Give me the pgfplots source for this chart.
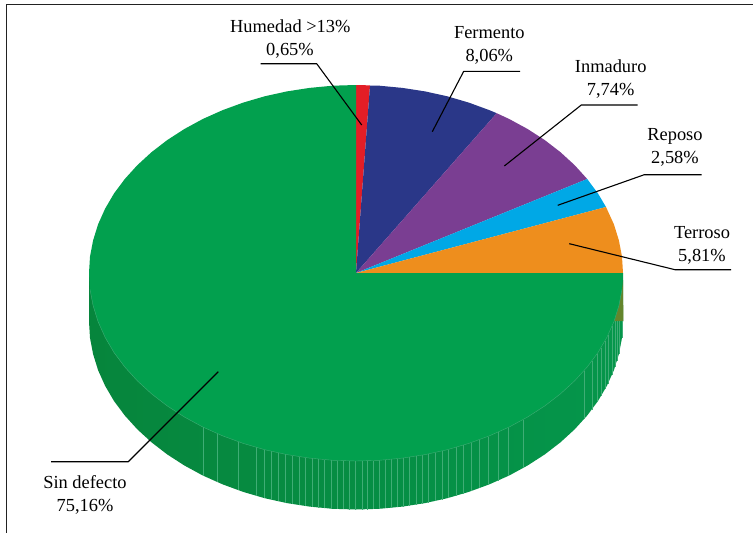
\documentclass[border=0pt]{standalone}
\usepackage{pgfplots}
\pgfplotsset{compat=1.18}
\usepackage{fontspec}
\setmainfont{Liberation Serif}

\definecolor{topgreen}{HTML}{02A04E}
\definecolor{sideL}{HTML}{06853C}
\definecolor{sideM}{HTML}{059349}
\definecolor{sideR}{HTML}{05964B}
\definecolor{rib}{HTML}{3FAD75}
\definecolor{redS}{HTML}{E31E26}
\definecolor{blueS}{HTML}{2A3788}
\definecolor{purpleS}{HTML}{7A3E92}
\definecolor{cyanS}{HTML}{00A8E6}
\definecolor{orangeS}{HTML}{EE8E1D}
\definecolor{oliveS}{HTML}{64852C}
\definecolor{frameC}{HTML}{222222}

\begin{document}
\begin{tikzpicture}
\begin{axis}[
  scale only axis, width=753pt, height=533pt,
  xmin=0, xmax=753, ymin=0, ymax=533, y dir=reverse,
  axis lines=none, unbounded coords=jump,
  every axis plot/.append style={line join=round},
]
% outer frame: top and left rules
\addplot[frameC, line width=1.5pt] coordinates {(753,4.5) (6.3,4.5) (6.3,533)};

% cylinder wall below the top face
\addplot[draw=none, shade, left color=sideL, middle color=sideM, right color=sideR] coordinates {
 (623,273) (623,321.5) (622,337.9) (618.9,354.1) (613.9,370.2) (606.9,385.8) (598,401) (587.2,415.5)
 (574.7,429.3) (560.5,442.3) (544.8,454.4) (527.6,465.5) (509.2,475.5) (489.5,484.3) (468.8,491.9)
 (447.3,498.2) (425.1,503.1) (402.4,506.6) (379.3,508.8) (356,509.5) (332.7,508.8) (309.6,506.6)
 (286.9,503.1) (264.7,498.2) (243.2,491.9) (222.5,484.3) (202.8,475.5) (184.4,465.5) (167.2,454.4)
 (151.5,442.3) (137.3,429.3) (124.8,415.5) (114,401) (105.1,385.8) (98.1,370.2) (93.1,354.1) (90,337.9)
 (89,321.5) (89,273)
} -- cycle;

% orange wall sliver at the right edge
\addplot[draw=none, fill=oliveS] coordinates {
 (613.9,321) (615,318.7) (617,312.7) (619,305.5) (622,289) (623,280) (623.4,321)
} -- cycle;

% wall ribs
\addplot[rib, line width=0.4pt] coordinates {
 (203,427) (203,475.5) (203,nan)
 (217,433.5) (217,482) (217,nan)
 (238,441.7) (238,490) (238,nan)
 (256,447.4) (256,496) (256,nan)
 (264,449.5) (264,498) (264,nan)
 (271,451.3) (271,500) (271,nan)
 (278,452.8) (278,501.3) (278,nan)
 (285,454.2) (285,502.7) (285,nan)
 (292,455.5) (292,504) (292,nan)
 (299,456.7) (299,505.2) (299,nan)
 (305,457.6) (305,506.1) (305,nan)
 (312,458.4) (312,506.9) (312,nan)
 (318,459) (318,507.5) (318,nan)
 (324,459.6) (324,508.1) (324,nan)
 (331,460.2) (331,508.7) (331,nan)
 (337,460.5) (337,509) (337,nan)
 (343,460.8) (343,509.3) (343,nan)
 (349,461) (349,509.5) (349,nan)
 (355,461) (355,509.5) (355,nan)
 (362,461) (362,509.5) (362,nan)
 (367,461) (367,509.5) (367,nan)
 (373,460.6) (373,509.1) (373,nan)
 (379,460.3) (379,508.8) (379,nan)
 (385,459.9) (385,508.4) (385,nan)
 (391,459.4) (391,507.9) (391,nan)
 (397,458.8) (397,507.3) (397,nan)
 (403,458) (403,506.5) (403,nan)
 (409,457.3) (409,505.8) (409,nan)
 (416,456.2) (416,504.7) (416,nan)
 (422,455.2) (422,503.7) (422,nan)
 (428,454) (428,502.5) (428,nan)
 (435,452.6) (435,501.1) (435,nan)
 (442,451) (442,499.5) (442,nan)
 (448,449.5) (448,498) (448,nan)
 (456,447.4) (456,495.9) (456,nan)
 (463,445.3) (463,493.8) (463,nan)
 (471,442.7) (471,491.2) (471,nan)
 (479,439.9) (479,488.4) (479,nan)
 (488,436.5) (488,485) (488,nan)
 (498,432.2) (498,480.7) (498,nan)
 (508,427.6) (508,476.1) (508,nan)
 (523,419.7) (523,468.2) (523,nan)
 (584,370.9) (584,419.4) (584,nan)
 (592,361) (592,409.5) (592,nan)
 (597,353.9) (597,402.4) (597,nan)
 (601,347.7) (601,396.2) (601,nan)
 (605,340.9) (605,389.4) (605,nan)
 (608,335) (608,383.5) (608,nan)
 (612,326.3) (612,374.8) (612,nan)
 (615,321) (615,367.2) (615,nan)
 (617,321) (617,361.2) (617,nan)
 (619,321) (619,354) (619,nan)
 (622,321) (622,337.5)
};

% top face slices, clockwise from twelve o'clock
\addplot[draw=none, fill=redS] coordinates {
 (356,273) (356,85) (363,85.1) (370,85.5)
} -- cycle;
\addplot[draw=none, fill=blueS] coordinates {
 (356,273) (370,85.5) (379.3,85.7) (402.4,87.9) (425.1,91.4) (447.3,96.3) (468.8,102.6) (489.5,110.2) (496.7,113.2)
} -- cycle;
\addplot[draw=none, fill=purpleS] coordinates {
 (356,273) (496.7,113.2) (509.2,119) (527.6,129) (544.8,140.1) (560.5,152.2) (574.7,165.2) (587.2,179)
} -- cycle;
\addplot[draw=none, fill=cyanS] coordinates {
 (356,273) (587.2,179) (598,193.5) (606,207)
} -- cycle;
\addplot[draw=none, fill=orangeS] coordinates {
 (356,273) (606,207) (613.9,224.3) (618.9,240.4) (622,256.6) (623,273)
} -- cycle;
\addplot[draw=none, fill=topgreen] coordinates {
 (356,273) (623,273) (622,289.4) (618.9,305.6) (613.9,321.7) (606.9,337.3) (598,352.5) (587.2,367)
 (574.7,380.8) (560.5,393.8) (544.8,405.9) (527.6,417) (509.2,427) (489.5,435.8) (468.8,443.4)
 (447.3,449.7) (425.1,454.6) (402.4,458.1) (379.3,460.3) (356,461) (332.7,460.3) (309.6,458.1)
 (286.9,454.6) (264.7,449.7) (243.2,443.4) (222.5,435.8) (202.8,427) (184.4,417) (167.2,405.9)
 (151.5,393.8) (137.3,380.8) (124.8,367) (114,352.5) (105.1,337.3) (98.1,321.7) (93.1,305.6) (90,289.4)
 (89,273) (90,256.6) (93.1,240.4) (98.1,224.3) (105.1,208.7) (114,193.5) (124.8,179) (137.3,165.2)
 (151.5,152.2) (167.2,140.1) (184.4,129) (202.8,119) (222.5,110.2) (243.2,102.6) (264.7,96.3)
 (286.9,91.4) (309.6,87.9) (332.7,85.7) (356,85)
} -- cycle;

% light rim between the top face and the wall
\addplot[rib, line width=0.4pt] coordinates {
 (622,289.4) (618.9,305.6) (613.9,321.7) (606.9,337.3) (598,352.5) (587.2,367)
 (574.7,380.8) (560.5,393.8) (544.8,405.9) (527.6,417) (509.2,427) (489.5,435.8) (468.8,443.4)
 (447.3,449.7) (425.1,454.6) (402.4,458.1) (379.3,460.3) (356,461) (332.7,460.3) (309.6,458.1)
 (286.9,454.6) (264.7,449.7) (243.2,443.4) (222.5,435.8) (202.8,427) (184.4,417) (167.2,405.9)
 (151.5,393.8) (137.3,380.8) (124.8,367) (114,352.5) (105.1,337.3) (98.1,321.7) (93.1,305.6) (90,289.4)
};

% leader lines
\addplot[black, line width=1.1pt] coordinates {(260.7,63.7) (316.7,63.7) (361.7,125)};
\addplot[black, line width=1.1pt] coordinates {(520,71.3) (463.7,71.3) (432.3,131.7)};
\addplot[black, line width=1.1pt] coordinates {(637.7,105) (581.3,105) (504.3,166)};
\addplot[black, line width=1.1pt] coordinates {(701.7,174.7) (644.3,174.7) (557.7,205.3)};
\addplot[black, line width=1.1pt] coordinates {(731,269.7) (675,269.7) (569.3,243.7)};
\addplot[black, line width=1.1pt] coordinates {(51,461.7) (128.3,461.7) (218.3,371.7)};

% slice labels
\begin{scope}[every node/.style={anchor=base, inner sep=0pt, font=\fontsize{18.4}{23}\selectfont}]
\node at (axis cs:290.3,32) {Humedad >13\%};
\node at (axis cs:290,55) {0,65\%};
\node at (axis cs:489.3,38) {Fermento};
\node at (axis cs:489.3,61) {8,06\%};
\node at (axis cs:610.7,72) {Inmaduro};
\node at (axis cs:610.7,95) {7,74\%};
\node at (axis cs:675,140) {Reposo};
\node at (axis cs:675,163) {2,58\%};
\node at (axis cs:702,238) {Terroso};
\node at (axis cs:702,261) {5,81\%};
\node at (axis cs:85,488) {Sin defecto};
\node at (axis cs:85,511.7) {75,16\%};
\end{scope}
\end{axis}
% page extent
\path (0,0) rectangle (753pt,533pt);
\end{tikzpicture}
\end{document}
